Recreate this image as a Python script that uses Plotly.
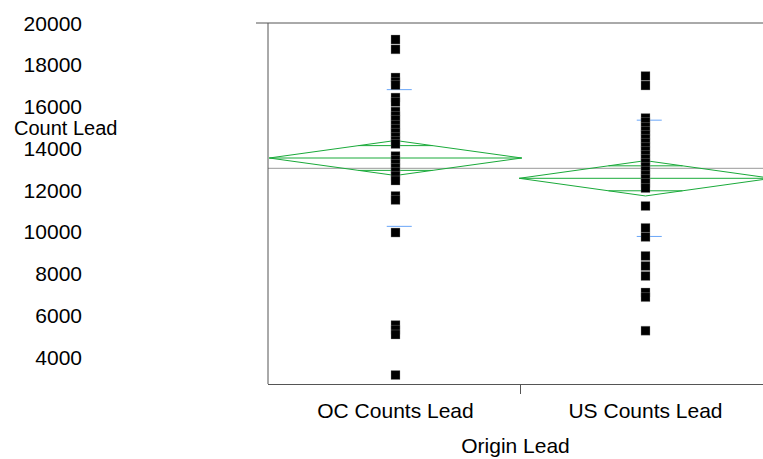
import math
import plotly.graph_objects as go

# ---------------- data ----------------
categories = ["OC Counts Lead", "US Counts Lead"]

oc_values = [19220, 18750, 17400, 17190, 17040, 16440, 16230, 15770, 15560,
             15370, 15130, 14940, 14750, 14550, 14360, 14220, 13640, 13450,
             13260, 13070, 12880, 12690, 12470, 11730, 11540, 9980, 5550,
             5320, 5100, 3160]

us_values = [17470, 17020, 15460, 15270, 15030, 14840, 14650, 14460, 14270,
             14070, 13880, 13690, 13500, 13310, 13120, 12930, 12730, 12540,
             12350, 12110, 11250, 10200, 9770, 8860, 8380, 7900, 7110, 6890,
             5280]

group_means = [13548, 12576]
group_ci = [838, 845]          # half-height of means diamonds
group_sd = [3272, 2783]        # std-dev lines
grand_mean = 13055

y_ticks = [4000, 6000, 8000, 10000, 12000, 14000, 16000, 18000, 20000]
x_title = "Origin Lead"
y_title = "Count Lead"

# ---------------- figure ----------------
W, H = 763, 459
FONT = "Liberation Sans, Arial, sans-serif"
GREEN = "#1aaa3a"
BLUE = "#6aa6f8"
AX = "#555555"

fig = go.Figure()

hw = 0.505  # diamond half width (category units)
k = math.sqrt(2) / 2
for i, (m, ci, sd) in enumerate(zip(group_means, group_ci, group_sd)):
    fig.add_trace(go.Scatter(
        x=[i - hw, i, i + hw, i, i - hw],
        y=[m, m + ci, m, m - ci, m],
        mode="lines", line=dict(color=GREEN, width=1), hoverinfo="skip",
        showlegend=False))
    d = ci * k
    w = hw * (1 - k)
    fig.add_trace(go.Scatter(
        x=[i - hw, i + hw, None, i - w, i + w, None, i - w, i + w],
        y=[m, m, None, m + d, m + d, None, m - d, m - d],
        mode="lines", line=dict(color=GREEN, width=1), hoverinfo="skip",
        showlegend=False))
    fig.add_trace(go.Scatter(
        x=[i - 0.035, i + 0.065, None, i - 0.035, i + 0.065],
        y=[m + sd, m + sd, None, m - sd, m - sd],
        mode="lines", line=dict(color=BLUE, width=1), hoverinfo="skip",
        showlegend=False))

for i, vals in enumerate([oc_values, us_values]):
    fig.add_trace(go.Scatter(
        x=[i] * len(vals), y=vals, mode="markers",
        marker=dict(symbol="square", size=9, color="black",
                    line=dict(color="rgba(150,150,150,0.7)", width=0.5)),
        name=categories[i], showlegend=False))

x0p = 268 / W
fig.update_layout(
    width=W, height=H,
    margin=dict(l=0, r=0, t=23, b=75),
    paper_bgcolor="white", plot_bgcolor="white",
    font=dict(family=FONT, size=21, color="black"),
    showlegend=False,
    xaxis=dict(
        domain=[x0p, 1], range=[-0.51, 1.47],
        tickmode="array", tickvals=[0, 1], ticktext=categories,
        ticks="", showgrid=False, zeroline=False,
        showline=True, linecolor=AX, linewidth=1,
        minor=dict(tickmode="array", tickvals=[0.5], ticks="outside",
                   ticklen=9, tickcolor=AX, tickwidth=1, showgrid=False),
        tickfont=dict(size=21), ticklabelstandoff=8,
        title=dict(text=x_title, font=dict(size=21), standoff=17),
    ),
    yaxis=dict(
        anchor="free", position=82 / W,
        range=[2730, 20010], tickmode="array", tickvals=y_ticks,
        tickformat="d",
        ticks="", showgrid=False, zeroline=False, showline=False,
        tickfont=dict(size=21),
    ),
    shapes=[
        dict(type="line", xref="paper", yref="paper", x0=x0p, x1=x0p,
             y0=0, y1=1, line=dict(color=AX, width=1)),
        dict(type="line", xref="paper", yref="paper", x0=256 / W, x1=1,
             y0=1, y1=1, line=dict(color=AX, width=1)),
        dict(type="line", xref="x domain", yref="y", x0=0, x1=1,
             y0=grand_mean, y1=grand_mean, layer="below",
             line=dict(color="#999999", width=1)),
    ],
    annotations=[
        dict(text=y_title, xref="paper", yref="paper", x=12 / W,
             y=(384 - 128) / 361, xanchor="left", yanchor="middle",
             showarrow=False, font=dict(size=20)),
    ],
)

fig.write_html("out.html")
